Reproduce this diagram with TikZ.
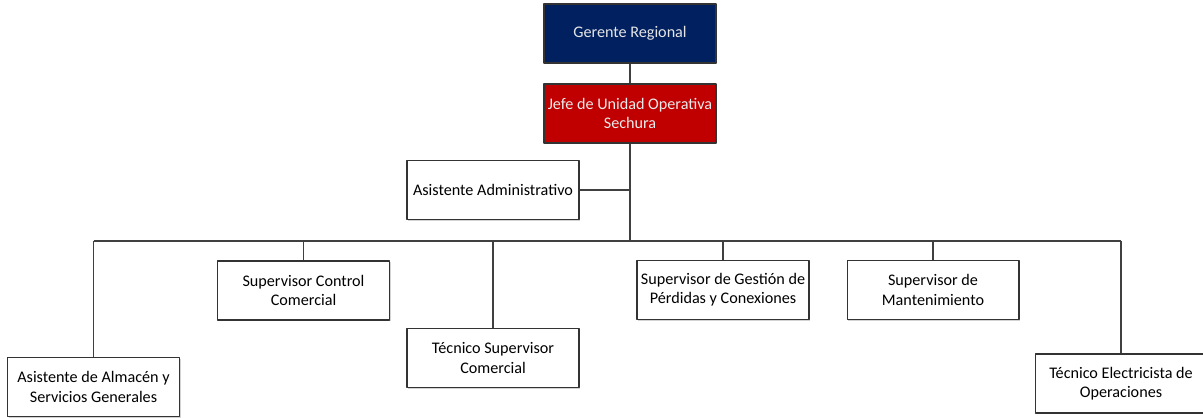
\documentclass[tikz,border=0pt]{standalone}
\usepackage{fontspec}
\setmainfont{Carlito}
\usetikzlibrary{shadows}
\definecolor{azulger}{HTML}{002060}
\definecolor{rojojefe}{HTML}{C00000}
\begin{document}
\begin{tikzpicture}[x=0.02cm,y=-0.02cm, font=\fontsize{9.2}{11}\selectfont, line join=round,
	caja/.style={draw=black!80, line width=0.6pt, fill=white, minimum width=3.44cm, minimum height=1.18cm, align=center, inner sep=2pt,
		drop shadow={shadow xshift=0.6pt, shadow yshift=-0.6pt, opacity=0.35}},
	linea/.style={draw=black!75, line width=0.6pt}]
	\def\ybus{241} % altura de la barra
	\useasboundingbox (0,0) rectangle (1203,418);
	\node[caja, fill=azulger, text=white!90!black] (ger) at (630,33.5) {Gerente Regional};
	\node[caja, fill=rojojefe, text=white!92!black] (jefe) at (630,113.5) {Jefe de Unidad Operativa\\Sechura};
	\node[caja] (adm) at (493,190) {Asistente Administrativo};
	\node[caja] (alm) at (93.5,387) {Asistente de Almacén y\\Servicios Generales};
	\node[caja] (ctrl) at (303.5,290.5) {Supervisor Control\\Comercial};
	\node[caja] (tec) at (493,358) {Técnico Supervisor\\Comercial};
	\node[caja] (gest) at (723,290) {Supervisor de Gestión de\\Pérdidas y Conexiones};
	\node[caja] (mant) at (933,290) {Supervisor de\\Mantenimiento};
	\node[caja] (elec) at (1121,383.5) {Técnico Electricista de\\Operaciones};
	\coordinate (bus) at (630,\ybus);
	% conectores
	\draw[linea] (ger) -- (jefe);
	\draw[linea] (jefe) -- (bus);
	\draw[linea] (adm.east) -- (adm.east -| jefe.south);
	\draw[linea] (alm.north |- bus) -- (elec.north |- bus);
	\foreach \n in {alm,ctrl,tec,gest,mant,elec}
		\draw[linea] (\n.north) -- (\n.north |- bus);
\end{tikzpicture}
\end{document}
